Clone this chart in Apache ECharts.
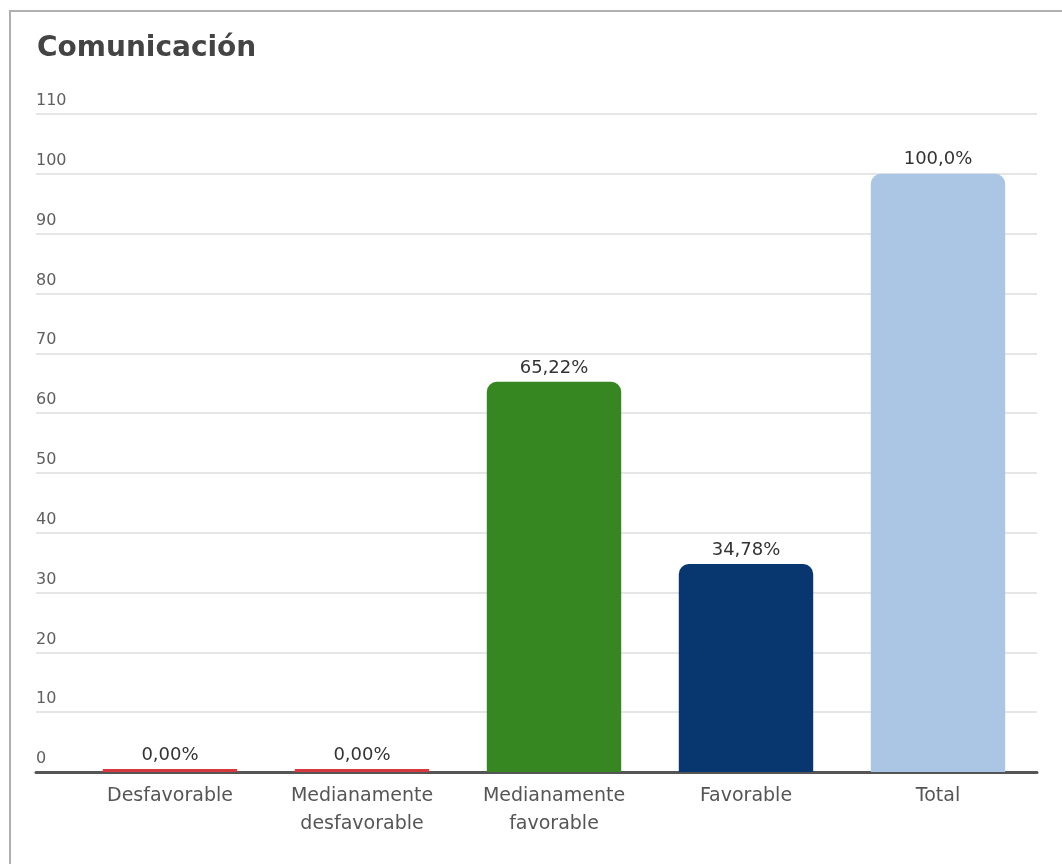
<!DOCTYPE html>
<html>
<head>
<meta charset="utf-8">
<script src="https://cdn.jsdelivr.net/npm/echarts@6/dist/echarts.min.js"></script>
<style>
html,body{margin:0;padding:0;background:#fff;overflow:hidden;}
#frame{position:absolute;left:9px;top:10px;width:1200px;height:1000px;border-top:2px solid #b0b0b0;border-left:2px solid #b0b0b0;box-sizing:border-box;}
#chart{position:absolute;left:0;top:0;width:1062px;height:864px;}
</style>
</head>
<body>
<div id="frame"></div>
<div id="chart"></div>
<script>
const titleText = 'Comunicación';
const categories = ['Desfavorable', 'Medianamente\ndesfavorable', 'Medianamente\nfavorable', 'Favorable', 'Total'];
const values = [0, 0, 65.22, 34.78, 100];
const valueLabels = ['0,00%', '0,00%', '65,22%', '34,78%', '100,0%'];
const barColors = ['#d8383f', '#d8383f', '#368722', '#08366f', '#abc6e5'];
const yMin = 0, yMax = 110, yStep = 10;

const chart = echarts.init(document.getElementById('chart'));
const font = 'DejaVu Sans';
chart.setOption({
  animation: false,
  title: {
    text: titleText, left: 32, top: 30,
    textStyle: {fontFamily: 'DejaVu Sans', fontWeight: 'bold', fontSize: 28, color: '#444'}
  },
  grid: [
    {left: 36, right: 25, top: 114, bottom: 92},
    {left: 74, right: 28, top: 114, bottom: 92}
  ],
  xAxis: [
    {gridIndex: 0, type: 'category', data: [''], axisLine: {show: true, lineStyle: {color: '#555', width: 3}},
     axisTick: {show: false}, axisLabel: {show: false}},
    {gridIndex: 1, type: 'category', data: categories, axisLine: {show: false}, axisTick: {show: false},
     axisLabel: {margin: 10, fontFamily: font, fontSize: 19, color: '#555', lineHeight: 28}}
  ],
  yAxis: [
    {gridIndex: 0, type: 'value', min: yMin, max: yMax, interval: yStep,
     axisLine: {show: false}, axisTick: {show: false},
     splitLine: {lineStyle: {color: '#e6e6e6', width: 2}},
     axisLabel: {inside: true, align: 'left', verticalAlign: 'bottom', margin: 0, padding: [0, 0, 5, 0],
       fontFamily: font, fontSize: 16, color: '#606060'}},
    {gridIndex: 1, type: 'value', min: yMin, max: yMax, interval: yStep, show: false}
  ],
  series: [{
    type: 'bar', xAxisIndex: 1, yAxisIndex: 1,
    barCategoryGap: '30%', barMinHeight: 3,
    data: values.map((v, i) => ({value: v, itemStyle: {color: barColors[i], borderRadius: v > 0 ? [10, 10, 0, 0] : 0}})),
    label: {show: true, position: 'top', distance: 5, fontFamily: font, fontSize: 18, color: '#333',
      formatter: p => valueLabels[p.dataIndex]}
  }]
});
</script>
</body>
</html>
